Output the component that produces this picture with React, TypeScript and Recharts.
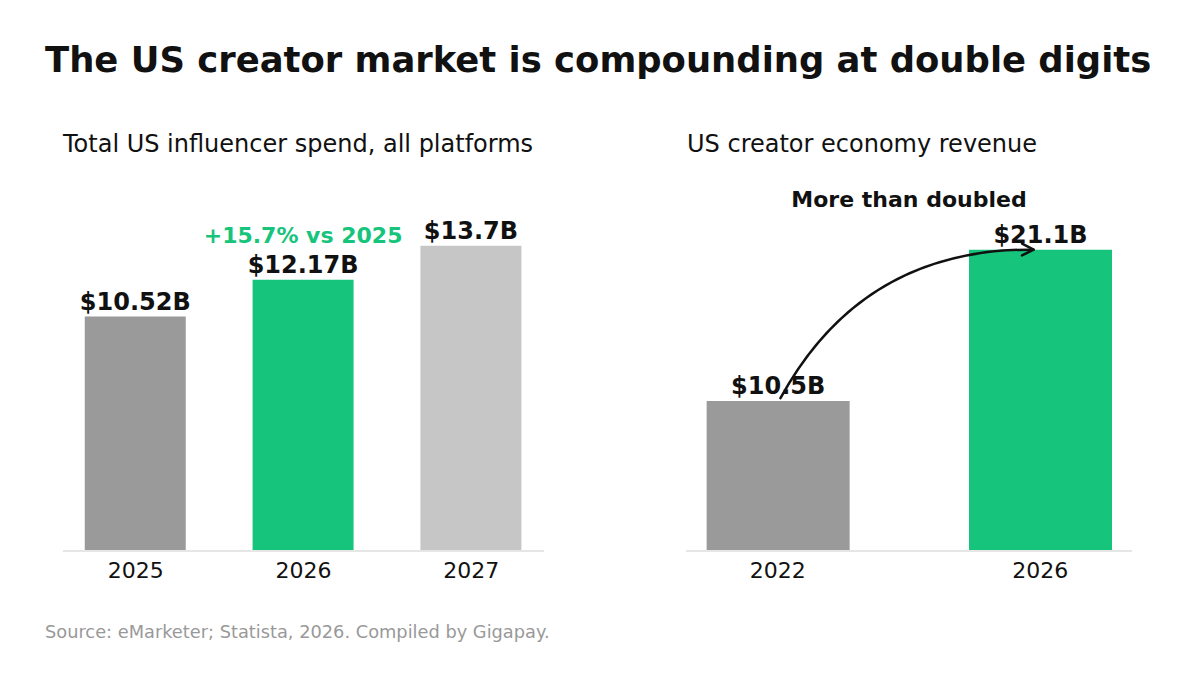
import { BarChart, Bar, XAxis, YAxis, Cell, LabelList, ReferenceLine } from "recharts";

// Left panel: total US influencer spend
const spendYears = ["2025", "2026", "2027"];
const spendValues = [10.52, 12.17, 13.7];
const spendLabels = ["$10.52B", "$12.17B", "$13.7B"];
const spendNotes = ["", "+15.7% vs 2025", ""];

// Right panel: creator economy revenue
const revenueYears = ["2022", "2026"];
const revenueValues = [10.5, 21.1];
const revenueLabels = ["$10.5B", "$21.1B"];

// Annotation arrow, in data units (x = bar position, y = $B)
const arrowFrom = { x: 0.01, y: 10.7 };
const arrowTo = { x: 0.975, y: 21.1 };

const GREEN = "#16c47b";
const GRAY = "#9a9a9a";
const LIGHT = "#c6c6c6";
const INK = "#111111";
const FONT = "DejaVu Sans, sans-serif";

const spendColors = [GRAY, GREEN, LIGHT];
const revenueColors = [GRAY, GREEN];

const spendData = spendYears.map((year, i) => ({
    pos: i,
    year,
    value: spendValues[i],
    label: spendLabels[i],
    note: spendNotes[i],
}));

const revenueData = revenueYears.map((year, i) => ({
    pos: i,
    year,
    value: revenueValues[i],
    label: revenueLabels[i],
}));

// green note above the value label, no wrapping
function NoteLabel(p: any) {
    const { x, y, width, value } = p;
    if (!value) return null;
    return (
        <text
            x={Number(x) + Number(width) / 2}
            y={Number(y) - 37}
            textAnchor="middle"
            fontSize={22}
            fontWeight="bold"
            fill={GREEN}
            fontFamily={FONT}
        >
            {value}
        </text>
    );
}

function CurvedArrow(p: any) {
    const { x1, y1, x2, y2 } = p;
    const dx = x2 - x1;
    const dy = y2 - y1;
    const rad = 0.3;
    const cx = (x1 + x2) / 2 + rad * dy;
    const cy = (y1 + y2) / 2 - rad * dx;
    // arrow head from end tangent
    const tx = x2 - cx;
    const ty = y2 - cy;
    const len = Math.hypot(tx, ty) || 1;
    const ux = tx / len;
    const uy = ty / len;
    const head = 13;
    const ang = (27 * Math.PI) / 180;
    const arm = (s: number) => {
        const c = Math.cos(s * ang);
        const sn = Math.sin(s * ang);
        const rx = ux * c - uy * sn;
        const ry = ux * sn + uy * c;
        return `${x2 - rx * head},${y2 - ry * head}`;
    };
    return (
        <g fill="none" stroke={INK} strokeWidth={2.5} strokeLinecap="round" strokeLinejoin="round">
            <path d={`M${x1},${y1} Q${cx},${cy} ${x2},${y2}`} />
            <polyline points={`${arm(1)} ${x2},${y2} ${arm(-1)}`} />
        </g>
    );
}

const axisProps = {
    type: "number" as const,
    dataKey: "pos",
    axisLine: { stroke: "#e6e6e6", strokeWidth: 2 },
    tickLine: false,
    tickSize: 0,
    tickMargin: 11,
    tick: { fontSize: 22, fill: INK, fontFamily: FONT },
    height: 50,
    interval: 0 as const,
    allowDataOverflow: true,
};

export default function App() {
    return (
        <div
            style={{
                position: "absolute",
                left: 0,
                top: 0,
                width: 1196,
                height: 687,
                background: "#fff",
                fontFamily: FONT,
            }}
        >
            <svg width={1196} height={687} style={{ position: "absolute", left: 0, top: 0 }}>
                <text x={45} y={72} fontSize={35.4} fontWeight="bold" fill={INK} fontFamily={FONT}>
                    The US creator market is compounding at double digits
                </text>
                <text x={63} y={152} fontSize={24} fill={INK} fontFamily={FONT}>
                    Total US influencer spend, all platforms
                </text>
                <text x={687} y={152} fontSize={24} fill={INK} fontFamily={FONT}>
                    US creator economy revenue
                </text>
                <text x={909} y={207} fontSize={22} fontWeight="bold" fill={INK} textAnchor="middle" fontFamily={FONT}>
                    More than doubled
                </text>
                <text x={45} y={638} fontSize={17.8} fill="#999999" fontFamily={FONT}>
                    Source: eMarketer; Statista, 2026. Compiled by Gigapay.
                </text>
            </svg>

            <div style={{ position: "absolute", left: 63, top: 150 }}>
                <BarChart
                    width={481}
                    height={451}
                    data={spendData}
                    margin={{ top: 40, right: 0, bottom: 0, left: 0 }}
                    style={{ fontFamily: FONT }}
                >
                    <XAxis
                        {...axisProps}
                        domain={[-0.433, 2.433]}
                        ticks={[0, 1, 2]}
                        tickFormatter={(v: number) => spendYears[v] ?? ""}
                    />
                    <YAxis hide type="number" domain={[0, 16.2]} allowDataOverflow />
                    <Bar dataKey="value" barSize={101} isAnimationActive={false}>
                        {spendData.map((d, i) => (
                            <Cell key={d.year} fill={spendColors[i]} />
                        ))}
                        <LabelList dataKey="label" position="top" offset={7} fill={INK} fontSize={24} fontWeight="bold" />
                        <LabelList dataKey="note" content={NoteLabel} />
                    </Bar>
                </BarChart>
            </div>

            <div style={{ position: "absolute", left: 686, top: 150 }}>
                <BarChart
                    width={446}
                    height={451}
                    data={revenueData}
                    margin={{ top: 40, right: 0, bottom: 0, left: 0 }}
                    style={{ fontFamily: FONT }}
                >
                    <XAxis
                        {...axisProps}
                        domain={[-0.35, 1.35]}
                        ticks={[0, 1]}
                        tickFormatter={(v: number) => revenueYears[v] ?? ""}
                    />
                    <YAxis hide type="number" domain={[0, 25.28]} allowDataOverflow />
                    <Bar dataKey="value" barSize={143} isAnimationActive={false}>
                        {revenueData.map((d, i) => (
                            <Cell key={d.year} fill={revenueColors[i]} />
                        ))}
                        <LabelList dataKey="label" position="top" offset={7} fill={INK} fontSize={24} fontWeight="bold" />
                    </Bar>
                    <ReferenceLine
                        segment={[arrowFrom, arrowTo]}
                        ifOverflow="visible"
                        shape={CurvedArrow}
                    />
                </BarChart>
            </div>
        </div>
    );
}
